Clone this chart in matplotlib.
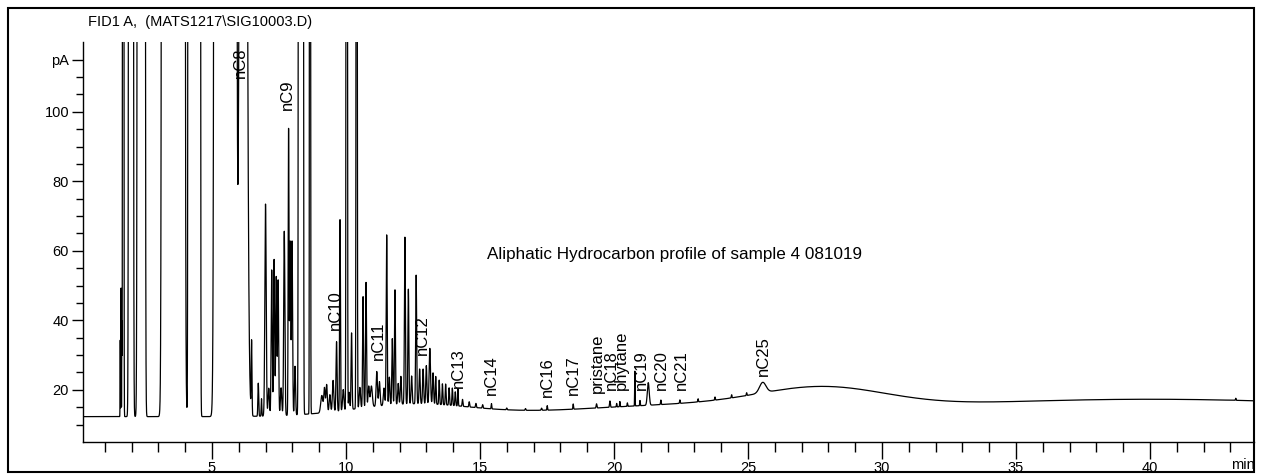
import numpy as np
import matplotlib.pyplot as plt
from matplotlib.patches import Rectangle

# peaks: retention time (min), height above baseline (pA), width (sigma, min)
peak_rt = [1.58, 1.61, 1.64, 1.69, 1.98, 2.28, 2.44, 3.56, 4.34, 5.50, 6.17,
           6.48, 6.73, 6.85, 7.00, 7.12, 7.23, 7.32, 7.40, 7.47, 7.58, 7.70,
           7.86, 7.92, 7.99, 8.10, 8.27, 8.37, 8.66,
           9.10, 9.20, 9.28, 9.40, 9.52, 9.65, 9.78, 9.90, 10.03, 10.12, 10.21,
           10.40, 10.52, 10.64, 10.75, 10.85, 10.95, 11.15, 11.25, 11.42, 11.52,
           11.62, 11.73, 11.83, 11.95, 12.05, 12.20, 12.33, 12.45, 12.62, 12.75,
           12.88, 13.00, 13.13, 13.25, 13.35, 13.48, 13.60, 13.72, 13.85, 13.97,
           14.08, 14.18, 14.35, 14.60, 14.85, 15.10, 15.43, 16.00, 16.70, 17.30,
           17.51, 18.48, 19.35, 19.85, 20.10, 20.22, 20.50, 20.78, 20.97, 21.28,
           21.75, 22.46, 23.14, 23.77, 24.39, 24.95, 25.55, 43.20]
peak_height = [22, 37, 27, 3000, 2.5e4, 2700, 5000, 1e9, 1e10, 3e7, 735,
               21, 9.5, 5, 61, 8, 42, 45, 40, 39, 8, 53,
               82, 50, 50, 14, 3000, 3000, 1000,
               5, 7, 8, 5, 9, 20, 55, 6, 1000, 5, 22,
               500, 6, 32, 36, 6, 6, 10, 7, 5, 49,
               8, 19, 33, 6, 8, 48, 33, 8, 37, 10,
               10, 11, 16, 9, 8, 7, 6, 6, 5, 5,
               4, 5, 2, 1.5, 1.2, 1.0, 1.5, 0.5, 0.5, 0.6,
               1.3, 1.5, 1.2, 1.8, 1.0, 1.5, 1.0, 10, 1.5, 6.5,
               1.3, 1.0, 0.9, 0.9, 0.9, 0.8, 3.0, 0.6]
peak_sigma = [0.006, 0.006, 0.006, 0.012, 0.03, 0.03, 0.03, 0.08, 0.04, 0.088, 0.0855,
              0.014, 0.015, 0.012, 0.025, 0.025, 0.02, 0.02, 0.02, 0.02, 0.025, 0.022,
              0.015, 0.02, 0.02, 0.02, 0.02, 0.02, 0.012,
              0.04, 0.025, 0.025, 0.025, 0.025, 0.02, 0.015, 0.025, 0.015, 0.02, 0.018,
              0.015, 0.025, 0.018, 0.018, 0.025, 0.035, 0.025, 0.025, 0.025, 0.018,
              0.02, 0.018, 0.018, 0.02, 0.02, 0.018, 0.018, 0.02, 0.018, 0.02,
              0.02, 0.02, 0.025, 0.02, 0.015, 0.015, 0.015, 0.015, 0.015, 0.015,
              0.015, 0.012, 0.015, 0.015, 0.015, 0.015, 0.012, 0.015, 0.015, 0.015,
              0.012, 0.012, 0.015, 0.015, 0.01, 0.01, 0.01, 0.008, 0.01, 0.035,
              0.012, 0.012, 0.012, 0.012, 0.012, 0.012, 0.12, 0.01]

# baseline drift: flat offset plus broad humps (UCM and column bleed)
base_level = 12.3
hump_rt = [12.5, 22.0, 27.8, 40.0]
hump_height = [3.5, 2.6, 5.8, 5.0]
hump_sigma = [2.2, 4.0, 2.4, 9.0]

label_names = ['nC8', 'nC9', 'nC10', 'nC11', 'nC12', 'nC13', 'nC14', 'nC16', 'nC17',
               'pristane', 'nC18', 'phytane', 'nC19', 'nC20', 'nC21', 'nC25']
label_rt = [6.08, 7.80, 9.60, 11.23, 12.85, 14.18, 15.43, 17.52, 18.50,
            19.38, 19.90, 20.26, 21.03, 21.78, 22.50, 25.59]
label_y = [109.8, 100.6, 37.3, 28.6, 30.0, 20.5, 18.6, 18.0, 18.4,
           19.0, 20.0, 20.0, 20.0, 20.0, 20.0, 24.0]

y_ticks = [20, 40, 60, 80, 100, 115]
y_tick_labels = ['20', '40', '60', '80', '100', 'pA']
x_ticks = [5, 10, 15, 20, 25, 30, 35, 40]

title_text = 'FID1 A,  (MATS1217\\SIG10003.D)'
note_text = 'Aliphatic Hydrocarbon profile of sample 4 081019'

font = ['Liberation Sans', 'DejaVu Sans']

t = np.arange(0.19, 43.9, 0.002)
signal = np.full_like(t, base_level)
for rt, h, s in zip(hump_rt, hump_height, hump_sigma):
    signal += h * np.exp(-0.5 * ((t - rt) / s) ** 2)
for rt, h, s in zip(peak_rt, peak_height, peak_sigma):
    signal += h * np.exp(-0.5 * ((t - rt) / s) ** 2)
signal = np.minimum(signal, 300)

W, H = 1268, 474
fig = plt.figure(figsize=(W / 100, H / 100), dpi=100)
ax = fig.add_axes([83 / W, (H - 442) / H, (1254 - 83) / W, 400 / H])

ax.plot(t, signal, color='black', lw=0.9)
ax.set_xlim(0.19, 43.88)
ax.set_ylim(5, 120.1)

for s in ['top', 'right']:
    ax.spines[s].set_visible(False)
for s in ['left', 'bottom']:
    ax.spines[s].set_linewidth(1.0)

ax.set_yticks(y_ticks)
ax.set_yticklabels(y_tick_labels, family=font, fontsize=10.5)
ax.set_yticks(np.arange(10, 120, 5), minor=True)
ax.set_xticks(x_ticks)
ax.set_xticklabels([str(x) for x in x_ticks], family=font, fontsize=10.5)
ax.set_xticks(np.arange(1, 44, 1), minor=True)
ax.tick_params(axis='y', which='major', length=8, width=1, pad=2)
ax.tick_params(axis='y', which='minor', length=5, width=1)
ax.tick_params(axis='x', which='major', length=12, width=1, pad=2)
ax.tick_params(axis='x', which='minor', length=7, width=1)

for name, rt, y in zip(label_names, label_rt, label_y):
    ax.text(rt, y, name, rotation=90, ha='center', va='bottom',
            family=font, fontsize=12, clip_on=True)

ax.text(15.26, 58.85, note_text, ha='left', va='center', family=font, fontsize=12.3)

fig.text(88 / W, 1 - 22 / H, title_text, ha='left', va='center', family=font, fontsize=10.5)
fig.text(1255 / W, 1 - 465 / H, 'min', ha='right', va='center', family=font, fontsize=10.5)

fig.add_artist(Rectangle((8 / W, 2 / H), (1254 - 8) / W, 464 / H,
                         transform=fig.transFigure, fill=False, lw=1.5, color='black'))

fig.savefig('out.png', dpi=100)
